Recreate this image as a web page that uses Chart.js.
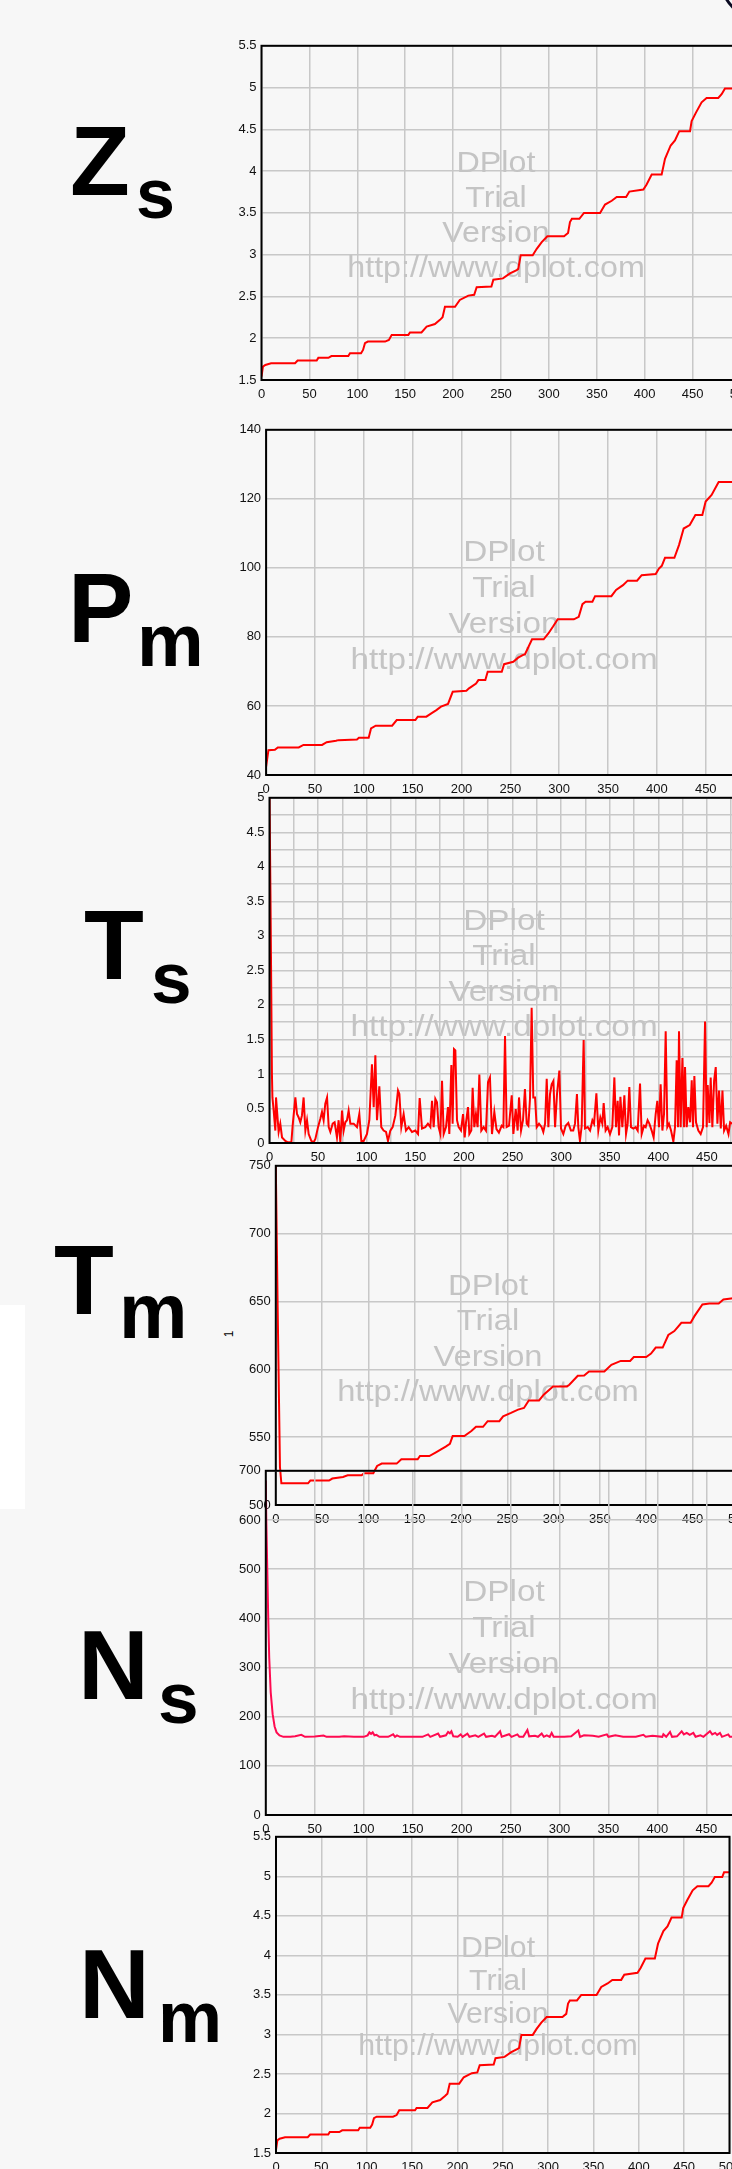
<!DOCTYPE html>
<html>
<head>
<meta charset="utf-8">
<title>Zs Pm Ts Tm Ns Nm</title>
<script src="https://cdn.jsdelivr.net/npm/chart.js@4.4.1/dist/chart.umd.min.js"></script>
<style>
  html, body { margin: 0; padding: 0; overflow: hidden; }
  body {
    width: 732px;
    height: 2169px;
    background: #f7f7f7;
    position: relative;
    font-family: "Liberation Sans", Arial, sans-serif;
  }
  canvas { position: absolute; left: 0; }
  .big { position: absolute; font-weight: bold; color: #000; line-height: 1; white-space: nowrap; }
  .main { font-size: 98px; }
  .white-box { position: absolute; left: 0; top: 1305px; width: 25px; height: 204px; background: #fff; }
  .corner { position: absolute; left: 720px; top: -60px; width: 80px; height: 80px; border: 3px solid #0a0a22; border-radius: 50%; box-sizing: border-box; }
  .one { position: absolute; left: 226px; top: 1327px; font-size: 12px; color: #000; transform: rotate(-90deg); }
</style>
</head>
<body>

<div class="white-box"></div>
<div class="corner"></div>
<div class="one">1</div>

<!-- ROTULOS GRANDES -->
<div class="big main" style="left:70px; top:112px;">Z</div>
<div class="big" style="left:136px; top:159px; font-size:70px;">s</div>
<div class="big main" style="left:68px; top:559px;">P</div>
<div class="big" style="left:137px; top:603px; font-size:75px;">m</div>
<div class="big main" style="left:84px; top:896px;">T</div>
<div class="big" style="left:151px; top:941px; font-size:73px;">s</div>
<div class="big main" style="left:54px; top:1231px;">T</div>
<div class="big" style="left:119px; top:1273px; font-size:77px;">m</div>
<div class="big main" style="left:78px; top:1616px;">N</div>
<div class="big" style="left:158px; top:1661px; font-size:73px;">s</div>
<div class="big main" style="left:79px; top:1935px;">N</div>
<div class="big" style="left:158px; top:1981px; font-size:72px;">m</div>

<canvas id="zs" width="800" height="373" style="top:33px"></canvas>
<canvas id="pm" width="800" height="384" style="top:417px"></canvas>
<canvas id="ts" width="800" height="384" style="top:785px"></canvas>
<canvas id="tm" width="800" height="378" style="top:1153px"></canvas>
<canvas id="ns" width="800" height="383" style="top:1458px"></canvas>
<canvas id="nm" width="800" height="355" style="top:1824px"></canvas>

<script>
// DADOS Zs (tambem usado em Nm, mesma curva)
const zsX = [0, 1.5, 4, 10, 35, 37.7, 57.6, 59.3, 69.8, 73,
  90.6, 92.4, 103.9, 106, 108, 111, 129, 133, 135.9, 153.3,
  155, 167, 172.4, 181, 186.3, 189, 191.5, 202, 207, 215.9,
  222, 224.6, 240, 242, 252, 259.4, 266.4, 268, 270.6, 283.1,
  287.3, 292.5, 298.4, 315.8, 320, 322, 324, 331.8, 336.6, 353.4,
  358.6, 365.6, 370.8, 380.6, 384, 398.6, 402, 407.3, 417.7, 421.2,
  427.1, 431.6, 436.1, 447.3, 449, 453.5, 459.4, 464.6, 476.8, 480.3,
  483.8, 492, 494, 500];
const zsY = [1.54, 1.66, 1.68, 1.70, 1.70, 1.733, 1.733, 1.765, 1.765, 1.787,
  1.787, 1.82, 1.82, 1.86, 1.94, 1.96, 1.96, 1.98, 2.04, 2.04,
  2.07, 2.07, 2.14, 2.17, 2.22, 2.25, 2.377, 2.377, 2.458, 2.51,
  2.52, 2.61, 2.62, 2.70, 2.716, 2.776, 2.816, 2.83, 2.994, 2.994,
  3.07, 3.15, 3.22, 3.22, 3.26, 3.39, 3.43, 3.43, 3.50, 3.50,
  3.60, 3.645, 3.69, 3.69, 3.755, 3.78, 3.84, 3.96, 3.96, 4.148,
  4.307, 4.367, 4.478, 4.478, 4.60, 4.70, 4.823, 4.875, 4.875, 4.92,
  4.99, 4.99, 5.05, 5.05];

// DADOS Pm
const pmX = [0, 2.4, 9, 12, 33.4, 38.2, 57.3, 62, 71.6, 74,
  93, 95, 105, 107.4, 112.2, 129, 133.7, 152.8, 155.2, 164,
  169.5, 174.3, 179, 186.2, 191, 205, 207.7, 214.9, 217.3, 224.4,
  226.8, 241.2, 243.6, 253, 258, 262.7, 265, 272.2, 284.1, 288.9,
  293.7, 298.5, 315, 320, 323.8, 327, 334, 336.7, 353.4, 358.2,
  365.3, 370.1, 379.7, 384.4, 398.8, 402.1, 405, 408.3, 417.9, 422.6,
  427.4, 433.6, 439.4, 446.5, 449.9, 456, 463.2, 478, 485, 500];
const pmY = [42.4, 47.2, 47.3, 48.0, 48.0, 48.7, 48.7, 49.5, 49.9, 50.1,
  50.3, 50.8, 50.8, 53.5, 54.3, 54.3, 55.9, 55.9, 56.9, 56.9,
  57.9, 58.8, 59.8, 60.6, 64.1, 64.4, 65.1, 66.5, 67.5, 67.5,
  69.9, 69.9, 72.1, 72.8, 74.0, 74.7, 75.0, 79.3, 79.3, 81.0,
  83.0, 85.1, 85.1, 85.8, 89.5, 90.2, 90.2, 91.8, 91.8, 93.6,
  95.0, 96.3, 96.3, 97.9, 98.2, 99.8, 100.6, 102.9, 102.9, 106.6,
  111.4, 112.4, 115.3, 115.3, 119.2, 121.1, 124.9, 124.9, 125.8, 127];

// DADOS Ts
const tsX = [0, 1, 2.5, 3, 4.3, 6, 6.7, 9.4, 11.1, 12.9,
  16.3, 19, 22.5, 23.8, 26.6, 28.3, 30, 31.7, 33.4, 35.1,
  36.9, 38.6, 40.3, 43, 45.4, 47.2, 49.9, 52.3, 54, 55.7,
  57.4, 59.2, 60.9, 62.6, 65, 67, 69.4, 71.1, 72.9, 74.6,
  76.3, 78, 79.7, 81.4, 83.2, 86.6, 90, 92.4, 94.5, 96.9,
  100.3, 102.7, 105.4, 107.2, 108.9, 110.6, 113, 115, 117.4, 119.9,
  121.9, 124.3, 126.7, 129.5, 132.2, 133.6, 135.6, 138, 140.4, 143.2,
  146.6, 150, 152.8, 154.5, 156.9, 160.3, 163, 165.5, 167.2, 168.9,
  170.6, 172.3, 174, 175.8, 177.5, 179.2, 181.6, 183.6, 185, 187.1,
  188.4, 189.8, 191.2, 192.9, 194.6, 197, 199.1, 200.8, 202.2, 204.2,
  205.6, 207.6, 209, 210.7, 212.4, 214.1, 215.9, 217.9, 220.3, 222.7,
  224.8, 226.8, 228.9, 231.3, 233.5, 236, 238.9, 240.6, 242.3, 244,
  246.4, 249.2, 250.9, 253.3, 255.3, 256.7, 258.8, 260.8, 262.8, 264.6,
  266.3, 268, 269.7, 271.4, 273.2, 274.9, 277.3, 280, 281.7, 283.5,
  285.2, 286.9, 288.6, 290.3, 292.1, 293.8, 295.8, 298.2, 299.9, 302.3,
  304.7, 307.4, 310.1, 312.5, 314.3, 316.3, 317.7, 319.4, 321.2, 323.2,
  324.6, 327.4, 329.8, 332.2, 333.9, 336.3, 338.3, 340.4, 342.4, 343.8,
  345.8, 347.9, 350.3, 352.7, 354.8, 356.5, 358.2, 359.6, 361, 363,
  365.1, 366.8, 368.5, 370.2, 371.9, 374.3, 376.7, 378.8, 381.2, 382.9,
  385.3, 387, 389, 390.8, 393.2, 395.2, 397.3, 399, 400.7, 402.4,
  404.2, 405.9, 407.6, 409.3, 411, 413.1, 415.5, 417.2, 418.9, 420.3,
  421.3, 423, 424.8, 426.5, 427.5, 429.2, 430.9, 432.7, 434.4, 435.7,
  437.1, 438.8, 441.2, 443.6, 446, 448.1, 449.8, 450.8, 452.6, 453.9,
  455.6, 457.4, 459.1, 460.8, 462.5, 464.3, 466, 467.7, 469.8, 472.2,
  473.9, 476, 480];
const tsY = [5.0, 3.6, 1.0, 0.66, 0.47, 0.18, 0.66, 0.16, 0.28, 0.08,
  0.03, 0.01, 0.01, 0.25, 0.66, 0.42, 0.37, 0.30, 0.40, 0.66,
  0.18, 0.33, 0.13, 0.03, 0.01, 0.06, 0.23, 0.35, 0.45, 0.33,
  0.57, 0.66, 0.23, 0.16, 0.28, 0.30, 0.08, 0.33, 0.01, 0.47,
  0.18, 0.30, 0.33, 0.47, 0.28, 0.28, 0.23, 0.42, 0.03, 0.03,
  0.13, 0.33, 1.14, 0.52, 1.27, 0.33, 0.82, 0.23, 0.18, 0.16,
  0.03, 0.18, 0.23, 0.40, 0.76, 0.71, 0.23, 0.42, 0.18, 0.23,
  0.16, 0.18, 0.13, 0.65, 0.21, 0.23, 0.28, 0.23, 0.61, 0.23,
  0.64, 0.59, 0.23, 0.13, 0.90, 0.13, 0.23, 0.52, 0.13, 1.13,
  0.28, 1.36, 1.34, 0.33, 0.23, 0.18, 0.42, 0.08, 0.30, 0.52,
  0.13, 0.18, 0.80, 0.23, 0.42, 0.23, 0.99, 0.18, 0.23, 0.18,
  0.88, 0.95, 0.13, 0.45, 0.20, 0.15, 0.25, 0.23, 1.55, 0.23,
  0.25, 0.69, 0.13, 0.49, 0.18, 0.66, 0.18, 0.33, 0.78, 0.28,
  0.25, 0.64, 1.96, 0.66, 0.66, 0.23, 0.28, 0.23, 0.16, 0.28,
  0.93, 0.23, 0.71, 0.85, 0.90, 0.23, 0.71, 1.05, 0.21, 0.13,
  0.25, 0.29, 0.18, 0.18, 0.28, 0.71, 0.23, 0.03, 0.25, 1.49,
  0.21, 0.23, 0.18, 0.33, 0.28, 0.72, 0.18, 0.37, 0.28, 0.58,
  0.18, 0.23, 0.13, 0.23, 0.95, 0.23, 0.61, 0.11, 0.67, 0.23,
  0.69, 0.13, 0.28, 0.81, 0.23, 0.21, 0.23, 0.18, 0.86, 0.13,
  0.25, 0.23, 0.33, 0.28, 0.18, 0.08, 0.42, 0.61, 0.23, 0.85,
  0.18, 0.42, 1.62, 0.23, 0.28, 0.18, 0.02, 0.23, 1.20, 0.23,
  1.62, 0.23, 1.23, 0.23, 1.10, 0.23, 0.52, 0.30, 0.91, 0.23,
  0.97, 0.30, 0.18, 0.13, 0.23, 1.76, 0.23, 0.84, 0.29, 0.95,
  0.23, 0.90, 1.10, 0.28, 0.76, 0.21, 0.76, 0.18, 0.25, 0.13,
  0.30, 0.28, 0.22];

// DADOS Tm
const tmX = [0, 2, 4.5, 6, 34.8, 37.3, 57.5, 61, 72.6, 77.6,
  92.7, 95.3, 105.3, 109.4, 114.4, 130.5, 135.6, 153.2, 155.7, 165.8,
  173.4, 178.4, 183.5, 188, 191, 203.6, 211.2, 216.2, 223.8, 228.8,
  241.4, 245.5, 254, 261.6, 268, 273.2, 284.3, 289.3, 299.4, 314.5,
  317, 326.1, 333, 338.2, 354.8, 362.4, 372.5, 382.6, 386.6, 400,
  405.2, 410.3, 417.8, 423.9, 430.4, 438, 448, 452.1, 460.7, 468.2,
  478.3, 483.4, 500];
const tmY = [750, 645.8, 528, 516, 516, 518, 518, 519.5, 520.7, 521.9,
  521.9, 523.4, 523.4, 528.8, 530.5, 530.5, 533.7, 533.7, 536.1, 536.1,
  539, 541, 543, 545, 550.8, 550.8, 554.5, 557.6, 557.6, 561.8,
  561.8, 565.4, 567.9, 570.3, 571.5, 577.1, 577.1, 581.3, 587.4, 587.4,
  588.6, 595.2, 595.5, 598.4, 598.4, 603.3, 606.2, 606.2, 609.1, 609.1,
  611.6, 616, 616, 625.3, 628.2, 634.3, 634.3, 639.2, 647.8, 648.5,
  648.5, 651.5, 653];

// DADOS Ns
const nsX = [0, 0.5, 1.5, 2.5, 3.5, 5, 7, 9, 11, 14,
  18, 25, 30, 36.3, 40, 50, 59, 62, 75, 80,
  90, 100, 104, 105.8, 107.5, 109.2, 111, 113, 116, 125,
  130.1, 132, 134, 137, 150, 160, 165.8, 168, 176, 178,
  184, 186.2, 188, 189.6, 191.5, 196, 199.1, 201, 205.9, 208,
  214, 217, 222.9, 225, 231, 234, 239.3, 241, 248.5, 251,
  257, 259, 263, 267.2, 269, 275, 278, 281.8, 284, 287,
  290, 292, 294, 305, 312, 319.2, 321, 325, 334, 340,
  348.4, 350, 357, 365, 378, 385.7, 388, 395, 405, 406.1,
  409, 412.9, 415, 420, 424.8, 427, 430, 433, 436.7, 439,
  444, 447, 453.7, 456, 459, 461, 463.9, 466, 472.4, 474,
  480, 490, 500];
const nsY = [680, 600, 500, 400, 320, 250, 205, 180, 168, 162,
  159, 159, 160, 163, 159, 159.5, 161.6, 159, 159, 160,
  159, 159, 162, 168, 165, 168, 162, 163, 159, 159,
  164, 159, 162, 159, 159, 159, 164, 159, 165.6, 159,
  162, 169, 166, 170.3, 160, 159, 164, 159, 165.6, 159,
  162, 159, 165.6, 159, 161, 159, 170.3, 159, 164.2, 159,
  164, 159, 159, 173, 160, 161, 159, 165.6, 159, 162,
  159, 167, 159, 159, 160, 171.7, 159, 162, 161, 159,
  164, 159, 162, 159, 159, 163, 159, 161, 159, 164.2,
  159, 169, 159, 160, 170.3, 164, 167, 163, 167, 159,
  162, 159, 170.3, 164, 167, 163, 167, 159, 164, 159,
  159, 160, 159];

// ESTILO COMUM
const gridColor = "#c8c8c8";
const tickFont = { family: "'Liberation Sans', Arial, sans-serif", size: 13 };
const wmLines = ["DPlot", "Trial", "Version", "http://www.dplot.com"];

function toPoints(xs, ys) {
  return xs.map((x, i) => ({ x: x, y: ys[i] }));
}

// MARCA D'AGUA DPLOT
const watermarkPlugin = {
  id: "watermark",
  beforeDatasetsDraw(chart, args, opts) {
    const ctx = chart.ctx;
    ctx.save();
    ctx.fillStyle = "#c4c4c4";
    ctx.font = "30px 'Liberation Sans', Arial, sans-serif";
    ctx.textAlign = "center";
    ctx.textBaseline = "middle";
    wmLines.forEach((line, i) => {
      ctx.save();
      ctx.translate(opts.x, opts.y + (i - 1.5) * opts.gap);
      ctx.scale(opts.sx, 1);
      ctx.fillText(line, 0, 0);
      ctx.restore();
    });
    ctx.restore();
  },
};

// MOLDURA PRETA
const framePlugin = {
  id: "frame",
  afterDatasetsDraw(chart) {
    const a = chart.chartArea;
    const ctx = chart.ctx;
    ctx.save();
    ctx.strokeStyle = "#000";
    ctx.lineWidth = 2;
    ctx.strokeRect(a.left, a.top, a.right - a.left, a.bottom - a.top);
    ctx.restore();
  },
};

function everyLabel(step) {
  return function (v) {
    const k = v / step;
    return Math.abs(k - Math.round(k)) < 1e-9 ? String(v) : "";
  };
}

function makePanel(id, cfg) {
  const ctx = document.getElementById(id).getContext("2d");
  return new Chart(ctx, {
    type: "line",
    data: {
      datasets: [
        {
          data: toPoints(cfg.xs, cfg.ys),
          borderColor: cfg.color,
          borderWidth: 2,
          pointRadius: 0,
          tension: 0,
          fill: false,
        },
      ],
    },
    options: {
      responsive: false,
      animation: false,
      devicePixelRatio: 1,
      events: [],
      layout: {
        padding: { left: cfg.left - 50, right: 800 - cfg.right, top: 12, bottom: 0 },
      },
      scales: {
        x: {
          type: "linear",
          min: 0,
          max: 500,
          afterFit: (s) => { s.height = 26; },
          border: { display: false },
          grid: { color: gridColor, lineWidth: 1.5, drawTicks: false },
          ticks: {
            stepSize: cfg.xStep,
            autoSkip: false,
            maxRotation: 0,
            padding: 7,
            color: "#111",
            font: tickFont,
            callback: everyLabel(50),
          },
        },
        y: {
          min: cfg.yMin,
          max: cfg.yMax,
          afterFit: (s) => { s.width = 50; },
          border: { display: false },
          grid: { color: gridColor, lineWidth: 1.5, drawTicks: false },
          ticks: {
            stepSize: cfg.yStep,
            autoSkip: false,
            padding: 5,
            color: "#111",
            font: tickFont,
            callback: everyLabel(cfg.yLabel),
          },
        },
      },
      plugins: {
        legend: { display: false },
        tooltip: { enabled: false },
        watermark: cfg.mark,
      },
    },
    plugins: [watermarkPlugin, framePlugin],
  });
}

// GRAFICO Zs
makePanel("zs", {
  xs: zsX, ys: zsY, color: "#ff0000",
  left: 261.5, right: 740.5, xStep: 50,
  yMin: 1.5, yMax: 5.5, yStep: 0.5, yLabel: 0.5,
  mark: { x: 496, y: 183.5, gap: 35, sx: 1.075 },
});

// GRAFICO Pm
makePanel("pm", {
  xs: pmX, ys: pmY, color: "#ff0000",
  left: 266.1, right: 754.6, xStep: 50,
  yMin: 40, yMax: 140, yStep: 20, yLabel: 20,
  mark: { x: 504, y: 190, gap: 36, sx: 1.11 },
});

// GRAFICO Ts
makePanel("ts", {
  xs: tsX, ys: tsY, color: "#ff0000",
  left: 269.5, right: 755.5, xStep: 25,
  yMin: 0, yMax: 5, yStep: 0.25, yLabel: 0.5,
  mark: { x: 504, y: 189.6, gap: 35.3, sx: 1.11 },
});

// GRAFICO Tm
makePanel("tm", {
  xs: tmX, ys: tmY, color: "#ff0000",
  left: 275.8, right: 738.8, xStep: 50,
  yMin: 500, yMax: 750, yStep: 50, yLabel: 50,
  mark: { x: 488, y: 186.6, gap: 35.3, sx: 1.09 },
});

// GRAFICO Ns
makePanel("ns", {
  xs: nsX, ys: nsY, color: "#ff0a50",
  left: 265.8, right: 755.3, xStep: 50,
  yMin: 0, yMax: 700, yStep: 100, yLabel: 100,
  mark: { x: 504, y: 188.7, gap: 36, sx: 1.11 },
});

// GRAFICO Nm
makePanel("nm", {
  xs: zsX, ys: zsY, color: "#ff0000",
  left: 276, right: 729.5, xStep: 50,
  yMin: 1.5, yMax: 5.5, yStep: 0.5, yLabel: 0.5,
  mark: { x: 498, y: 174, gap: 32.8, sx: 1.01 },
});
</script>
</body>
</html>
